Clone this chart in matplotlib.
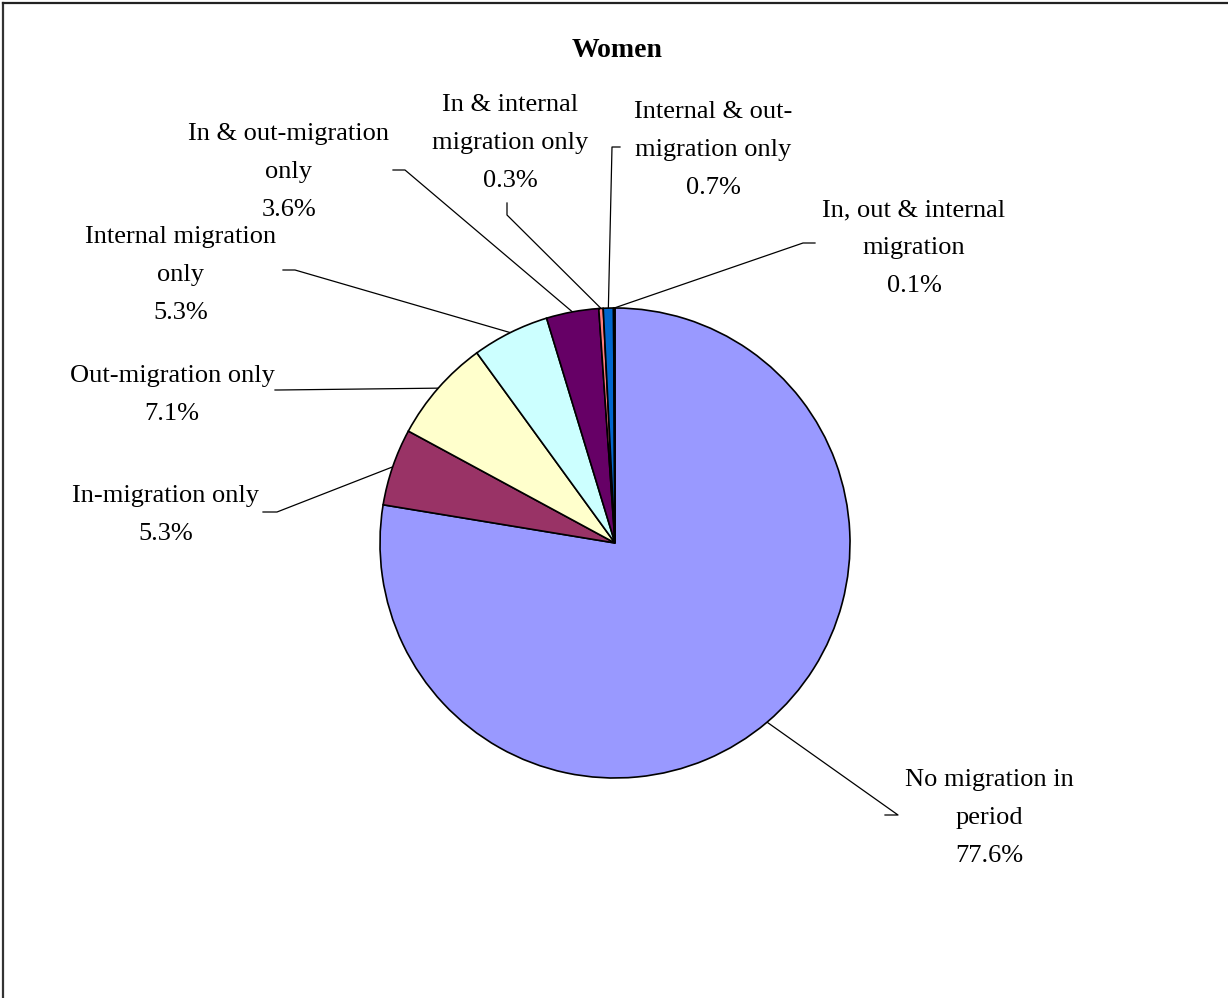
import numpy as np
import matplotlib.pyplot as plt
from matplotlib.lines import Line2D

# migration status shares, women
categories = [
    "No migration in\nperiod",
    "In-migration only",
    "Out-migration only",
    "Internal migration\nonly",
    "In & out-migration\nonly",
    "In & internal\nmigration only",
    "Internal & out-\nmigration only",
    "In, out & internal\nmigration",
]
shares = [77.6, 5.3, 7.1, 5.3, 3.6, 0.3, 0.7, 0.1]
colors = ["#9999FF", "#993366", "#FFFFCC", "#CCFFFF",
          "#660066", "#FF8080", "#0066CC", "#CCCCFF"]

W, H = 1228, 998
plt.rcParams['font.family'] = ['Liberation Serif', 'DejaVu Serif']

fig = plt.figure(figsize=(W / 100, H / 100), dpi=100)
ax = fig.add_axes([0, 0, 1, 1])

def py(y):
    # pixel row (from top) -> data y
    return H - y

cx, cy, r = 615, py(543), 235
wedges, _ = ax.pie(shares, colors=colors, startangle=90, counterclock=False,
                   center=(cx, cy), radius=r, frame=True,
                   wedgeprops=dict(edgecolor='black', linewidth=1.2))
ax.set_xlim(0, W)
ax.set_ylim(0, H)
ax.set_aspect('equal')
ax.axis('off')

# label centres and leader knees, in pixel rows from top
label_pos = [(989, 818), (166, 515), (172, 395), (181, 275),
             (289, 172), (510, 143), (713, 150), (914, 248)]
leaders = [
    [(898, 815), (885, 815)],
    [(277, 512), (263, 512)],
    [(278, 390), (275, 390)],
    [(295, 270), (283, 270)],
    [(405, 170), (393, 170)],
    [(507, 215), (507, 203)],
    [(612, 147), (620, 147)],
    [(803, 243), (815, 243)],
]

for w, name, v, (lx, ly), knee in zip(wedges, categories, shares, label_pos, leaders):
    ang = np.deg2rad((w.theta1 + w.theta2) / 2)
    ex, ey = cx + r * np.cos(ang), cy + r * np.sin(ang)
    xs = [ex] + [k[0] for k in knee]
    ys = [ey] + [py(k[1]) for k in knee]
    ax.plot(xs, ys, color='black', lw=0.9, zorder=0)
    ax.text(lx, py(ly), f"{name}\n{v:.1f}%", ha='center', va='center',
            fontsize=19, linespacing=1.92)

ax.text(617, py(50), "Women", ha='center', va='center',
        fontsize=20, fontweight='bold')

# chart border (left and top edges)
fig.add_artist(Line2D([2.5 / W, 2.5 / W], [0, 1 - 2.5 / H], color='#333333', lw=1.6))
fig.add_artist(Line2D([2.5 / W, 1], [1 - 2.5 / H, 1 - 2.5 / H], color='#222222', lw=1.6))

fig.savefig("out.png", dpi=100, facecolor='white')
